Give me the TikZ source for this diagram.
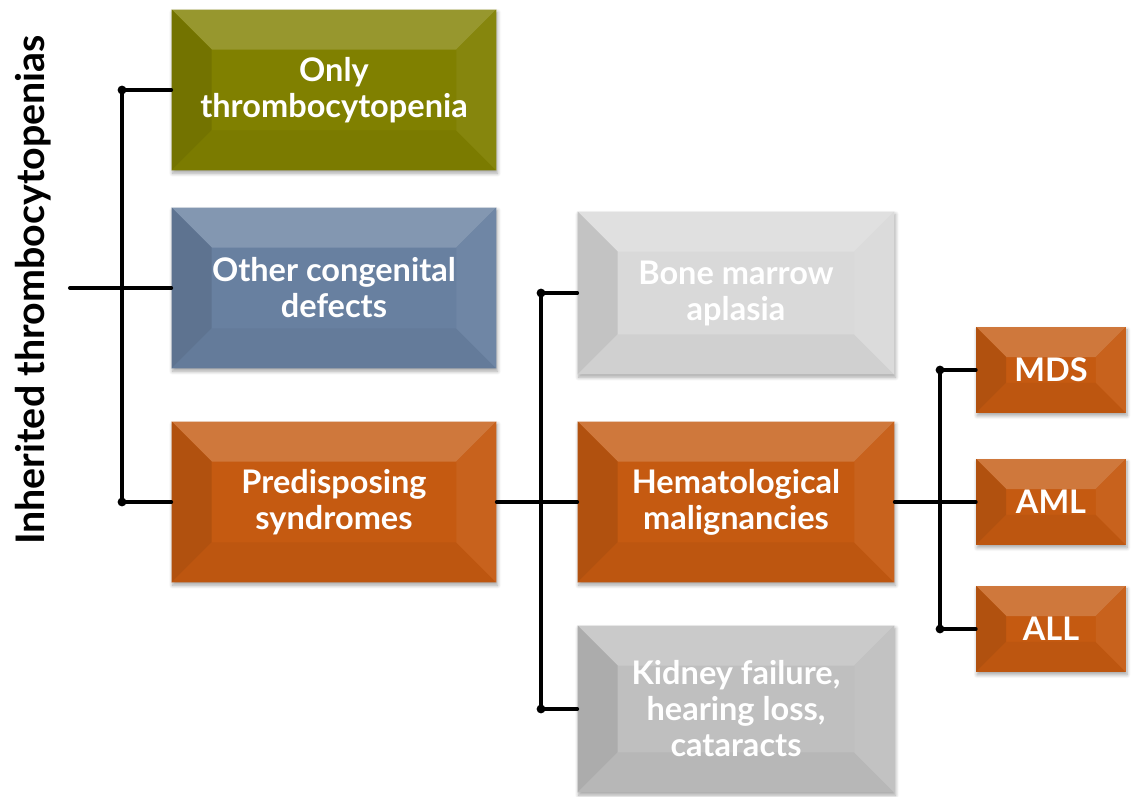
\documentclass[tikz,border=0pt]{standalone}
\usepackage{fontspec}
\setmainfont{Lato}
\usepackage{tikz}
\usetikzlibrary{positioning, calc, shadows.blur}

\definecolor{olivebox}{RGB}{128,128,0}
\definecolor{bluebox}{RGB}{104,128,160}
\definecolor{orangebox}{RGB}{197,90,17}
\definecolor{lightbox}{RGB}{217,217,217}
\definecolor{greybox}{RGB}{191,191,191}

\def\bevsz{0.8cm}

\begin{document}
\begin{tikzpicture}[
    x=0.02cm, y=-0.02cm,
    bevsize/.code={\def\bevsz{#1}},
    catbox/.style={rectangle, fill=#1, minimum width=6.5cm, minimum height=3.22cm,
        inner sep=0pt, align=center, text=white,
        font=\fontsize{18.5}{20.5}\selectfont\bfseries,
        blur shadow={shadow xshift=0.6pt, shadow yshift=-1.6pt, shadow blur steps=6, shadow opacity=35},
        path picture={
            \coordinate (pnw) at (path picture bounding box.north west);
            \coordinate (pne) at (path picture bounding box.north east);
            \coordinate (psw) at (path picture bounding box.south west);
            \coordinate (pse) at (path picture bounding box.south east);
            \fill[#1!82!white] (pnw) -- (pne) -- ([shift={(-\bevsz,-\bevsz)}]pne) -- ([shift={(\bevsz,-\bevsz)}]pnw) -- cycle;
            \fill[#1!90!black] (pnw) -- (psw) -- ([shift={(\bevsz,\bevsz)}]psw) -- ([shift={(\bevsz,-\bevsz)}]pnw) -- cycle;
            \fill[#1!96!black] (psw) -- (pse) -- ([shift={(-\bevsz,\bevsz)}]pse) -- ([shift={(\bevsz,\bevsz)}]psw) -- cycle;
            \fill[#1!95!white] (pne) -- (pse) -- ([shift={(-\bevsz,\bevsz)}]pse) -- ([shift={(-\bevsz,-\bevsz)}]pne) -- cycle;
        }},
    smallbox/.style={catbox=#1, minimum width=3cm, minimum height=1.72cm, bevsize=0.6cm},
    conn/.style={line width=2.3pt, line cap=round, line join=round},
    dot/.style={circle, fill, inner sep=0pt, minimum size=5pt},
]
\useasboundingbox (0,0) rectangle (1134,797);

% title along the left edge
\node[rotate=90, font=\fontsize{22.4}{26}\selectfont\bfseries] (title) at (33,290) {Inherited thrombocytopenias};

% first column
\node[catbox=olivebox] (only) at (334,90) {Only\\thrombocytopenia};
\node[catbox=bluebox] (other) at (334,288) {Other congenital\\defects};
\node[catbox=orangebox] (predis) at (334,502) {Predisposing\\syndromes};

% second column
\node[catbox=lightbox, minimum width=6.34cm, minimum height=3.26cm] (bone) at (736,293) {Bone marrow\\aplasia};
\node[catbox=orangebox, minimum width=6.34cm] (hemat) at (736,502) {Hematological\\malignancies};
\node[catbox=greybox, minimum width=6.34cm, minimum height=3.34cm] (kidney) at (736,709) {Kidney failure,\\hearing loss,\\cataracts};

% third column
\node[smallbox=orangebox] (mds) at (1051,370) {MDS};
\node[smallbox=orangebox] (aml) at (1051,502) {AML};
\node[smallbox=orangebox] (all) at (1051,629) {ALL};

% junctions
\coordinate (root) at (70,288);
\coordinate (jA) at (122,288);
\coordinate (jB) at (541,502);
\coordinate (jC) at (940,502);

\draw[conn] (root) -- (other.west);
\draw[conn] (only.west) -| (jA) |- (predis.west);
\node[dot] (dA1) at (only.west -| jA) {};
\node[dot] (dA2) at (predis.west -| jA) {};

\draw[conn] (predis.east) -- (hemat.west);
\draw[conn] (bone.west) -| (jB) |- (kidney.west);
\node[dot] (dB1) at (bone.west -| jB) {};
\node[dot] (dB2) at (kidney.west -| jB) {};

\draw[conn] (hemat.east) -- (aml.west);
\draw[conn] (mds.west) -| (jC) |- (all.west);
\node[dot] (dC1) at (mds.west -| jC) {};
\node[dot] (dC2) at (all.west -| jC) {};

\end{tikzpicture}
\end{document}
